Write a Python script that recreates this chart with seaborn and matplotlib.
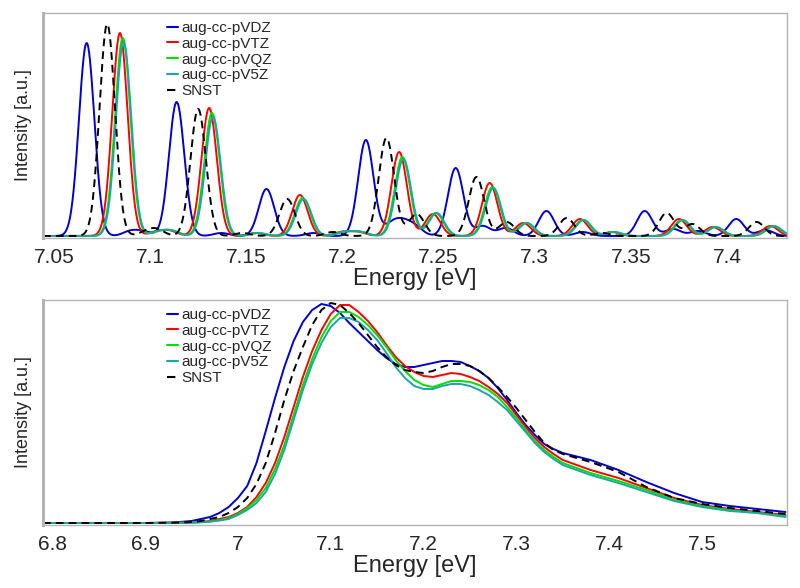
import numpy as np
import pandas as pd
import matplotlib
matplotlib.use("Agg")
import matplotlib.pyplot as plt
import seaborn as sns

# ---------------- data ----------------
labels = ["aug-cc-pVDZ", "aug-cc-pVTZ", "aug-cc-pVQZ", "aug-cc-pV5Z", "SNST"]
colors = ["#0000D0", "#FF0000", "#00E000", "#1FA5A0", "#000000"]

# Top panel: stick spectra (energy in eV, intensity in a.u.)
vdz_pos = [7.0670, 7.0900, 7.0970, 7.1138, 7.1370, 7.1605, 7.1850, 7.2122, 7.2260, 7.2320, 7.2380,
           7.2589, 7.2730, 7.2850, 7.3061, 7.3250, 7.3572, 7.3720, 7.3850, 7.4048, 7.4200]
vdz_int = [193, 5, 4, 134, 3, 47, 3, 96, 12, 11, 8,
           68, 10, 8, 25, 4, 25, 7, 5, 17, 6]
vtz_pos = [7.0843, 7.1030, 7.1100, 7.1307, 7.1550, 7.1779, 7.2000, 7.2080, 7.2295, 7.2470, 7.2766,
           7.2940, 7.3235, 7.3400, 7.3750, 7.3925, 7.4225]
vtz_int = [203, 4, 5, 128, 3, 41, 4, 4, 84, 22, 53, 13, 17, 4, 17, 9, 10]
vqz_pos = [7.0858, 7.1040, 7.1110, 7.1322, 7.1560, 7.1793, 7.2010, 7.2090, 7.2312, 7.2485, 7.2780,
           7.2955, 7.3250, 7.3410, 7.3765, 7.3940, 7.4240]
vqz_int = [198, 4, 5, 123, 3, 38, 4, 4, 79, 23, 49, 13, 16, 4, 16, 9, 10]
v5z_pos = [7.0862, 7.1043, 7.1113, 7.1327, 7.1563, 7.1798, 7.2013, 7.2093, 7.2317, 7.2490, 7.2785,
           7.2960, 7.3255, 7.3413, 7.3770, 7.3943, 7.4245]
v5z_int = [194, 4, 5, 119, 3, 37, 4, 4, 77, 23, 48, 13, 16, 4, 16, 9, 10]
snst_pos = [7.0777, 7.0980, 7.1035, 7.1250, 7.1480, 7.1713, 7.1950, 7.2229, 7.2386, 7.2697, 7.2855,
            7.3166, 7.3350, 7.3686, 7.3820, 7.4154]
snst_int = [212, 4, 6, 127, 3, 37, 4, 98, 22, 59, 14, 18, 3, 23, 12, 14]
line_sigma = 0.0040  # Gaussian broadening (eV)

# Bottom panel: broadened spectra
bot_energy = [6.79, 6.90, 6.93, 6.95, 6.96, 6.97, 6.98, 6.99, 7.00, 7.01, 7.02, 7.03, 7.04, 7.05,
              7.06, 7.07, 7.08, 7.09, 7.10, 7.11, 7.12, 7.13, 7.14, 7.15, 7.16, 7.17, 7.18, 7.19,
              7.20, 7.21, 7.22, 7.23, 7.24, 7.25, 7.26, 7.27, 7.28, 7.29, 7.30, 7.31, 7.32, 7.33,
              7.34, 7.35, 7.38, 7.41, 7.44, 7.47, 7.50, 7.53, 7.56, 7.59]
bot_vdz = [0, 0, 0.5, 2, 4, 6, 10, 16, 25, 37, 60, 92, 125, 156,
           182, 201, 213, 219, 217, 210, 200, 191, 182, 173, 165, 159, 156, 156,
           158, 160, 162, 162, 161, 157, 152, 145, 135, 123, 110, 98, 88, 79,
           74, 70, 63, 53, 41, 30, 21, 17, 14, 11]
bot_vtz = [0, 0, 0.2, 0.5, 1, 2, 4, 6, 10, 16, 26, 40, 60, 86,
           116, 146, 172, 193, 209, 218, 218, 211, 202, 191, 178, 166, 157, 151,
           147, 146, 148, 150, 149, 146, 142, 136, 129, 120, 108, 96, 85, 76,
           69, 63, 53, 45, 35, 25, 18, 14, 11, 8]
bot_vqz = [0, 0, 0.2, 0.4, 0.8, 1.5, 3, 5, 9, 15, 23, 35, 54, 78,
           108, 138, 164, 186, 202, 211, 211, 206, 198, 188, 176, 163, 152, 143,
           138, 136, 139, 142, 142, 141, 138, 133, 126, 116, 105, 93, 82, 73,
           66, 60, 50, 42, 33, 23, 17, 13, 10, 7]
bot_v5z = [0, 0, 0.1, 0.3, 0.7, 1.3, 2.5, 4, 8, 13, 20, 31, 49, 73,
           103, 133, 159, 180, 196, 205, 205, 201, 193, 183, 170, 156, 145, 137,
           134, 134, 137, 139, 139, 137, 133, 128, 121, 113, 102, 91, 80, 71,
           64, 58, 48, 40, 31, 22, 16, 12, 10, 6]
bot_snst = [0, 0, 0.3, 1, 2, 4, 6, 10, 16, 25, 39, 60, 90, 123,
            152, 176, 198, 213, 220, 218, 210, 200, 188, 176, 166, 158, 153, 151,
            150, 152, 156, 159, 159, 157, 152, 145, 136, 126, 115, 103, 91, 80,
            73, 69, 61, 51, 36, 25, 19, 15, 12, 9]

top_ticks = [7.05, 7.1, 7.15, 7.2, 7.25, 7.3, 7.35, 7.4]
top_ticklabels = ["7.05", "7.1", "7.15", "7.2", "7.25", "7.3", "7.35", "7.4"]
bot_ticks = [6.8, 6.9, 7.0, 7.1, 7.2, 7.3, 7.4, 7.5]
bot_ticklabels = ["6.8", "6.9", "7", "7.1", "7.2", "7.3", "7.4", "7.5"]

# ---------------- build tables ----------------
top_xlim = (7.0443, 7.4312)
grid = np.linspace(top_xlim[0], top_xlim[1], 2500)
sticks = [(vdz_pos, vdz_int), (vtz_pos, vtz_int), (vqz_pos, vqz_int),
          (v5z_pos, v5z_int), (snst_pos, snst_int)]
top_frames = []
for lab, (p, h) in zip(labels, sticks):
    p = np.asarray(p)[:, None]
    h = np.asarray(h, float)[:, None]
    y = (h * np.exp(-0.5 * ((grid[None, :] - p) / line_sigma) ** 2)).sum(axis=0)
    top_frames.append(pd.DataFrame({"Energy": grid, "Intensity": y, "basis": lab}))
top_df = pd.concat(top_frames, ignore_index=True)

bot_series = [bot_vdz, bot_vtz, bot_vqz, bot_v5z, bot_snst]
bot_df = pd.concat([pd.DataFrame({"Energy": bot_energy, "Intensity": s, "basis": lab})
                    for lab, s in zip(labels, bot_series)], ignore_index=True)

# ---------------- plot ----------------
sns.set_style("white")
plt.rcParams["font.family"] = ["Liberation Sans", "DejaVu Sans"]

fig = plt.figure(figsize=(8, 5.88), dpi=100)
ax_top = fig.add_axes([43 / 800, 1 - 238 / 588, 744 / 800, 225 / 588])
ax_bot = fig.add_axes([43 / 800, 1 - 525 / 588, 744 / 800, 225 / 588])

palette = dict(zip(labels, colors))
for ax, df, xlim, ticks, tlabels in [
        (ax_top, top_df, top_xlim, top_ticks, top_ticklabels),
        (ax_bot, bot_df, (6.790, 7.5916), bot_ticks, bot_ticklabels)]:
    for lab in labels:
        sub = df[df["basis"] == lab]
        ls = (0, (4, 2.6)) if lab == "SNST" else "-"
        sns.lineplot(data=sub, x="Energy", y="Intensity", color=palette[lab], linewidth=1.4,
                     linestyle=ls, label=lab, ax=ax, estimator=None, sort=False)
    ax.set_xlim(*xlim)
    ax.set_ylim(-2, 223)
    ax.set_xticks(ticks)
    ax.set_xticklabels(tlabels)
    ax.set_yticks([])
    ax.tick_params(axis="x", direction="out", length=3, width=0.8, color="#A0A0A0",
                   labelsize=15, pad=4)
    for sp in ax.spines.values():
        sp.set_color("#B4B4B4")
        sp.set_linewidth(1.0)
    ax.spines["left"].set_linewidth(2.2)
    ax.set_xlabel("Energy [eV]", fontsize=17, labelpad=1)
    ax.set_ylabel("Intensity [a.u.]", fontsize=13, labelpad=8)
    leg = ax.legend(loc="upper left", bbox_to_anchor=(0.166, 0.965), frameon=False,
                    fontsize=11, handlelength=0.75, handletextpad=0.25, labelspacing=0.12,
                    borderpad=0, borderaxespad=0)
    for ln in leg.get_lines():
        ln.set_linewidth(1.5)

fig.savefig("out.png", dpi=100)
